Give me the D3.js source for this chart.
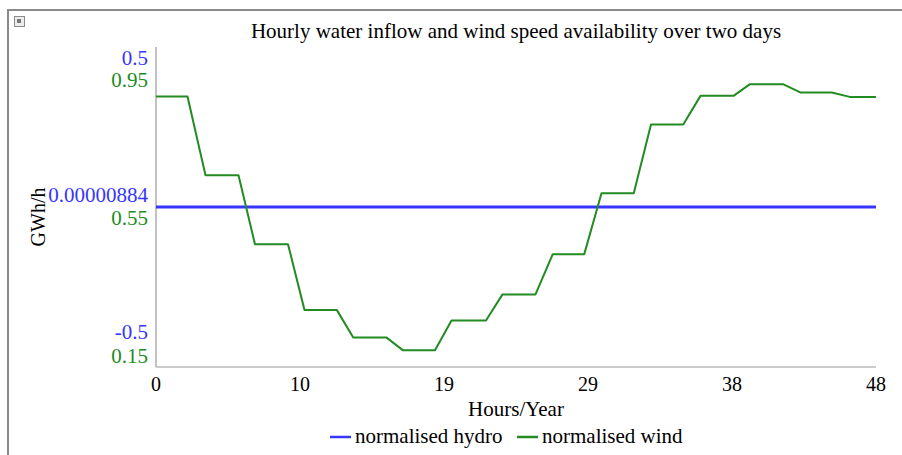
<!DOCTYPE html>
<html>
<head>
<meta charset="utf-8">
<script src="https://cdn.jsdelivr.net/npm/d3@7"></script>
<style>
  body { margin: 0; background: #fff; }
  svg text { font-family: "Liberation Serif", "Times New Roman", serif; }
</style>
</head>
<body>
<svg id="chart" width="902" height="455"></svg>
<script>
// Chart data
const hoursDomain = [0, 48];
const xTickValues = [0, 9.6, 19.2, 28.8, 38.4, 48];

// normalised hydro is flat over the two days
const hydroHours = [0, 48];
const hydroValues = [0.00000884, 0.00000884];
const hydroTicks = [0.5, 0.00000884, -0.5];

// normalised wind, breakpoints of the stepped curve
const windHours = [0, 2.1, 3.3, 5.5, 6.6, 8.8, 9.9, 12.05, 13.15, 15.35, 16.45, 18.6,
                   19.7, 22.0, 23.1, 25.3, 26.45, 28.55, 29.7, 31.85, 33.0, 35.15,
                   36.3, 38.5, 39.6, 41.8, 42.95, 45.05, 46.25, 48];
const windValues = [0.871, 0.871, 0.642, 0.642, 0.442, 0.442, 0.251, 0.251, 0.171, 0.171, 0.134, 0.134,
                    0.220, 0.220, 0.296, 0.296, 0.413, 0.413, 0.590, 0.590, 0.790, 0.790,
                    0.873, 0.873, 0.907, 0.907, 0.883, 0.883, 0.870, 0.870];
const windTicks = [0.95, 0.55, 0.15];

const hydroColor = '#3636ff';
const windColor = '#228b22';

const svg = d3.select('#chart');

// Outer frame and the little corner icon
svg.append('rect')
    .attr('x', 8).attr('y', 10)
    .attr('width', 1000).attr('height', 600)
    .attr('fill', 'none')
    .attr('stroke', '#8a8a8a')
    .attr('stroke-width', 2);

const icon = svg.append('g').attr('transform', 'translate(14,16)');
icon.append('rect')
    .attr('x', 0.5).attr('y', 0.5).attr('width', 10).attr('height', 10)
    .attr('fill', '#ececec').attr('stroke', '#8a8a8a');
icon.append('rect')
    .attr('x', 3).attr('y', 3).attr('width', 4).attr('height', 4)
    .attr('fill', '#777');

const plot = { left: 156, top: 47, right: 876, bottom: 367 };

const x = d3.scaleLinear().domain(hoursDomain).range([plot.left, plot.right]);
const yHydro = d3.scaleLinear().domain([-0.582, 0.582]).range([plot.bottom, plot.top]);
const yWind = d3.scaleLinear().domain([0.085, 1.015]).range([plot.bottom, plot.top]);

// Title
svg.append('text')
    .attr('x', (plot.left + plot.right) / 2)
    .attr('y', 38)
    .attr('text-anchor', 'middle')
    .attr('font-size', '21px')
    .text('Hourly water inflow and wind speed availability over two days');

// Axis lines
svg.append('line')
    .attr('x1', plot.left).attr('x2', plot.left)
    .attr('y1', plot.top).attr('y2', plot.bottom)
    .attr('stroke', '#999').attr('stroke-width', 1.2);
svg.append('line')
    .attr('x1', plot.left).attr('x2', plot.right)
    .attr('y1', plot.bottom).attr('y2', plot.bottom)
    .attr('stroke', '#999').attr('stroke-width', 1.2);

// X tick labels
svg.selectAll('.x-tick')
    .data(xTickValues)
    .enter()
    .append('text')
    .attr('class', 'x-tick')
    .attr('x', d => x(d))
    .attr('y', 391)
    .attr('text-anchor', 'middle')
    .attr('font-size', '20px')
    .text(d => Math.round(d));

svg.append('text')
    .attr('x', (plot.left + plot.right) / 2)
    .attr('y', 416)
    .attr('text-anchor', 'middle')
    .attr('font-size', '21px')
    .text('Hours/Year');

// Y tick labels, hydro label sits above, wind label below
svg.selectAll('.hydro-tick')
    .data(hydroTicks)
    .enter()
    .append('text')
    .attr('class', 'hydro-tick')
    .attr('x', 148)
    .attr('y', d => yHydro(d) - 5)
    .attr('text-anchor', 'end')
    .attr('font-size', '21px')
    .attr('fill', hydroColor)
    .text(d => d);

svg.selectAll('.wind-tick')
    .data(windTicks)
    .enter()
    .append('text')
    .attr('class', 'wind-tick')
    .attr('x', 148)
    .attr('y', d => yWind(d) + 18)
    .attr('text-anchor', 'end')
    .attr('font-size', '21px')
    .attr('fill', windColor)
    .text(d => d);

svg.append('text')
    .attr('transform', 'translate(45,217) rotate(-90)')
    .attr('text-anchor', 'middle')
    .attr('font-size', '20px')
    .text('GWh/h');

// Lines
const hydroLine = d3.line()
    .x((d, i) => x(hydroHours[i]))
    .y(d => yHydro(d));

const windLine = d3.line()
    .x((d, i) => x(windHours[i]))
    .y(d => yWind(d));

svg.append('path')
    .datum(hydroValues)
    .attr('d', hydroLine)
    .attr('fill', 'none')
    .attr('stroke', hydroColor)
    .attr('stroke-width', 3);

svg.append('path')
    .datum(windValues)
    .attr('d', windLine)
    .attr('fill', 'none')
    .attr('stroke', windColor)
    .attr('stroke-width', 2)
    .attr('stroke-linejoin', 'round');

// Legend
const legendItems = [
    { label: 'normalised hydro', color: hydroColor, x: 330 },
    { label: 'normalised wind', color: windColor, x: 517 }
];

const legend = svg.selectAll('.legend-item')
    .data(legendItems)
    .enter()
    .append('g')
    .attr('class', 'legend-item')
    .attr('transform', d => `translate(${d.x}, 437)`);

legend.append('line')
    .attr('x1', 0).attr('x2', 21)
    .attr('y1', 0).attr('y2', 0)
    .attr('stroke', d => d.color)
    .attr('stroke-width', 2.5);

legend.append('text')
    .attr('x', 25)
    .attr('y', 6)
    .attr('font-size', '21px')
    .text(d => d.label);
</script>
</body>
</html>
